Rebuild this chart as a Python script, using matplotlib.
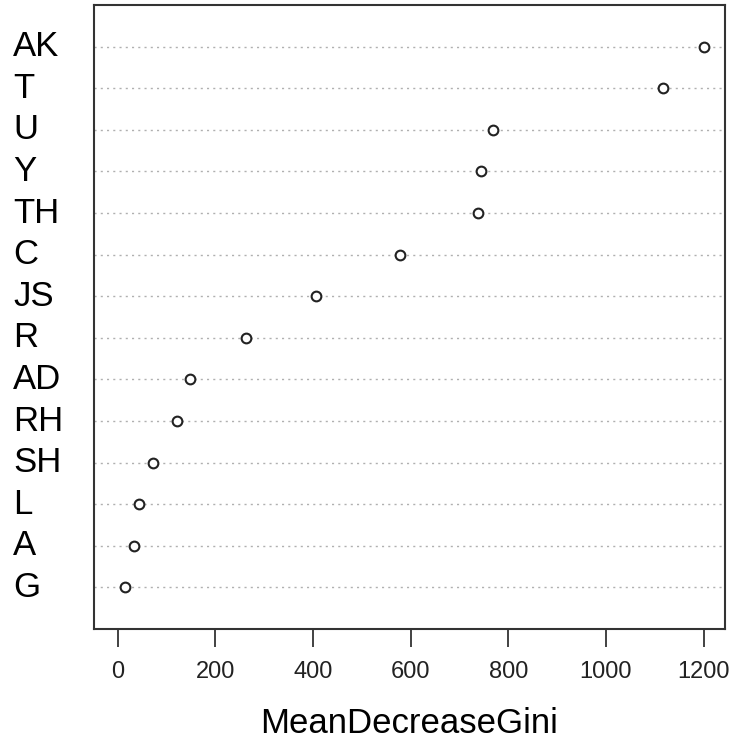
import matplotlib
matplotlib.use('Agg')
import matplotlib.pyplot as plt

# variable importance, top to bottom as in the chart
variables = ['AK', 'T', 'U', 'Y', 'TH', 'C', 'JS', 'R', 'AD', 'RH', 'SH', 'L', 'A', 'G']
gini = [1200, 1116, 769, 744, 738, 578, 407, 263, 148, 121, 72, 43, 33, 15]
xticks = [0, 200, 400, 600, 800, 1000, 1200]

plt.rcParams['font.family'] = ['Liberation Sans', 'DejaVu Sans']

fig = plt.figure(figsize=(7.31, 7.39), dpi=100)
ax = fig.add_axes([0.1286, 0.1488, 0.8632, 0.8444])

n = len(variables)
ypos = list(range(n, 0, -1))

for y in ypos:
    ax.axhline(y, color='#b0b0b0', linestyle=(0, (1.5, 3)), linewidth=1.0, zorder=1)

ax.plot(gini, ypos, 'o', markersize=7, markerfacecolor='white',
        markeredgecolor='#222222', markeredgewidth=1.5, zorder=3)

ax.set_xlim(-48.6, 1244)
ax.set_ylim(0, 15)
ax.set_xticks(xticks)
ax.set_xticklabels([str(t) for t in xticks], fontsize=17, color='#222222')
ax.tick_params(axis='x', length=13, width=1.3, pad=10, color='#333333')
ax.set_yticks([])

for y, name in zip(ypos, variables):
    ax.text(13, ax.transData.transform((0, y))[1], name, transform=None,
            fontsize=25, ha='left', va='center')

for s in ax.spines.values():
    s.set_linewidth(1.5)
    s.set_color('#333333')

ax.set_xlabel('MeanDecreaseGini', fontsize=25, labelpad=17)

fig.savefig('out.png', dpi=100)
